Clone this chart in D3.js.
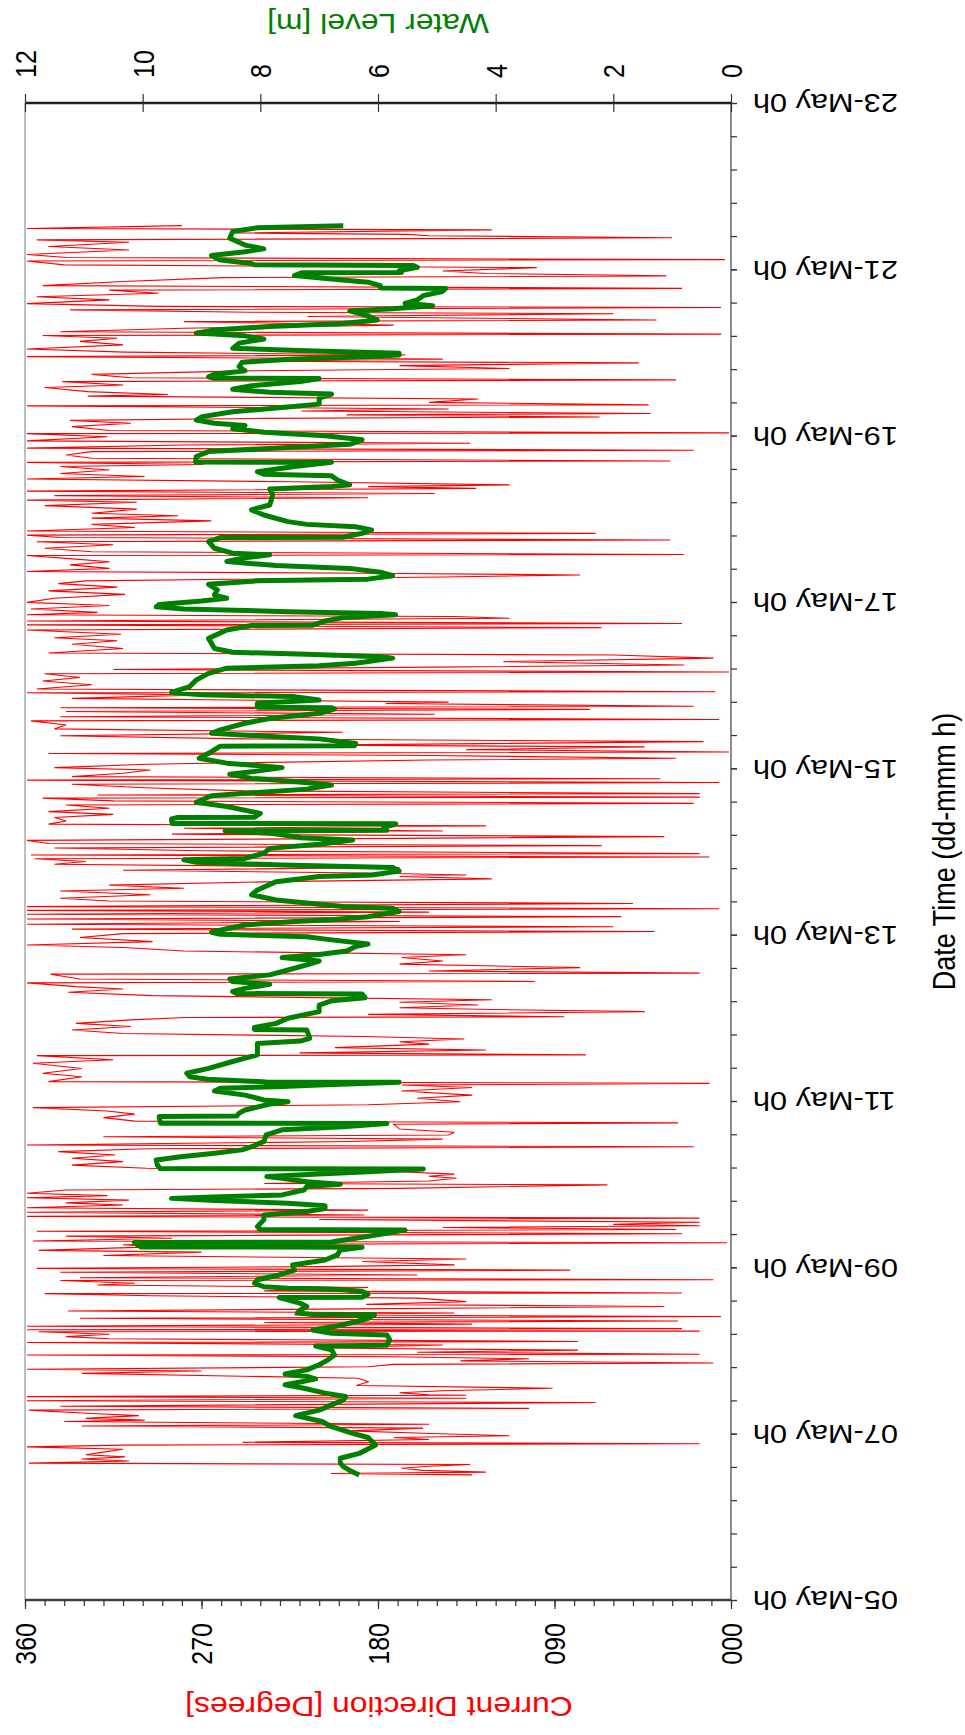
<!DOCTYPE html>
<html>
<head>
<meta charset="utf-8">
<script src="https://cdn.jsdelivr.net/npm/d3@7"></script>
<style>
  body { margin: 0; background: #fff; }
  svg { display: block; }
</style>
</head>
<body>
<svg id="chart" width="965" height="1735"></svg>
<script>
// ---- data -------------------------------------------------------------
// Sample times are hours after the first record (06-May 12:00).
const seriesStart = Date.UTC(2010, 4, 6, 12);
const axisStart = new Date(Date.UTC(2010, 4, 5));
const axisEnd = new Date(Date.UTC(2010, 4, 23));

const directionMajorTicks = [0, 90, 180, 270, 360];
const levelTicks = [0, 2, 4, 6, 8, 10, 12];

// [hours, metres]
const waterLevel = [
[0.1,6.32],[1.2,6.46],[2.5,6.59],[3.5,6.64],[4.9,6.64],[6.3,6.32],[8.7,6.04],[10.9,6.17],[12.1,6.43],[14.0,6.79],[15.5,6.95],[17.2,7.40],[18.8,7.00],[20.3,6.79],[21.7,6.59],[22.7,6.55],
[23.7,6.90],[25.1,7.26],[26.1,7.58],[26.9,7.32],[27.8,7.06],[28.5,7.21],[29.2,7.58],[30.4,7.21],[31.9,7.00],[33.3,6.85],[34.7,6.74],[36.2,6.79],[37.3,7.06],[37.5,5.85],[39.1,5.80],[40.5,5.85],[41.0,6.79],[41.9,7.11],[42.9,6.74],[44.3,6.38],[45.3,6.17],[46.3,6.06],[46.4,7.11],[46.8,7.37],[47.7,7.32],[48.7,7.21],[49.6,7.32],[50.6,7.53],[51.3,7.68],[51.4,6.27],[52.2,6.17],[53.0,6.27],[53.5,6.59],[53.8,7.00],[54.0,7.53],[54.4,7.94],[55.4,8.10],[56.4,8.05],[57.8,7.68],[59.2,7.42],[60.7,7.45],
[62.1,6.90],[63.6,6.69],[65.0,6.64],[65.8,6.27],[65.9,10.03],[67.2,10.14],[67.3,6.79],[68.4,6.38],[69.8,5.85],[70.8,5.54],[70.9,8.00],[71.8,8.05],[73.7,7.94],[75.1,7.94],[76.1,7.21],[77.0,6.90],[77.8,6.90],[78.5,7.53],[79.3,8.78],[79.9,9.51],[80.4,8.68],[80.9,7.63],[82.3,7.26],[83.3,7.21],[84.0,6.64],[84.7,7.21],[85.7,7.63],[86.2,7.89],[86.9,7.00],[87.6,6.17],[88.4,5.23],[88.5,9.70],[89.5,9.75],[91.0,9.77],[91.9,9.35],[92.9,8.78],[93.9,8.31],[94.8,8.15],[96.3,7.94],[98.2,7.90],
[99.7,7.63],[100.6,6.59],[101.5,5.85],[101.6,9.70],[103.5,9.72],[103.7,8.40],[104.5,8.36],[105.4,8.26],[107.1,7.84],[107.8,7.53],[108.3,7.94],[109.7,8.26],[110.9,8.78],[111.7,8.68],[112.1,7.73],[112.6,7.00],[113.4,5.64],[113.5,7.90],[114.3,8.90],[115.0,9.20],[116.0,9.25],[117.4,8.88],[119.4,8.47],[121.3,8.05],[123.2,8.05],[124.6,8.05],[125.3,7.32],[126.1,7.16],[128.5,7.21],[128.6,8.10],[129.2,8.10],[130.4,7.73],[131.9,7.53],[133.8,7.00],[135.7,7.00],
[136.9,6.79],[137.8,6.22],[138.9,6.27],[139.0,8.40],[139.6,8.47],[140.5,8.26],[141.7,7.84],[142.5,8.47],[143.2,8.52],[144.4,7.84],[145.8,7.53],[147.3,7.21],[148.4,7.00],[149.4,7.63],[150.3,7.00],[151.3,6.53],[152.6,6.38],[153.3,6.17],[154.5,6.79],[155.4,7.21],[156.1,8.68],[156.7,8.83],[157.7,8.57],[158.8,8.26],[159.8,7.42],[160.3,6.79],[161.2,6.17],[162.7,5.64],[163.6,5.75],[164.1,6.59],[164.8,7.00],[166.0,7.73],[167.5,8.15],[168.9,8.05],[171.3,7.73],[172.8,7.00],[173.2,6.10],
[174.4,5.64],[175.4,5.75],[176.1,7.63],[176.9,9.09],[177.6,9.30],[178.0,8.26],[179.5,7.94],[180.9,7.84],[182.1,7.00],[183.3,6.43],[184.0,7.32],[185.3,7.84],[186.0,8.60],[186.1,5.85],[187.0,5.90],[188.0,5.70],[188.1,9.50],[189.4,9.51],[189.8,9.40],[189.9,8.10],[191.0,8.00],[193.0,8.57],[194.2,9.09],[196.1,8.83],[196.8,8.26],[198.0,7.21],[199.2,6.79],[200.2,7.42],[201.1,8.15],[202.3,8.52],[203.2,8.05],[204.2,7.63],[205.5,8.57],[206.9,9.04],[208.8,8.83],[210.4,8.68],[210.5,6.40],
[211.2,6.38],[212.5,7.00],[213.4,8.05],[214.1,8.83],[215.1,8.68],[217.0,8.26],[218.4,7.84],[219.9,7.00],[221.1,6.74],[221.5,6.80],[221.6,8.05],[222.8,8.05],[223.7,7.00],[224.7,7.42],[225.2,8.99],[225.9,9.51],[227.6,9.20],[229.5,9.09],[231.4,8.88],[232.9,8.57],[233.6,7.00],[234.3,6.38],[235.8,5.75],[236.2,5.96],[236.9,7.21],[237.5,8.47],[238.6,8.78],[241.5,8.88],[243.9,8.57],[245.2,8.15],[245.3,7.11],[246.5,6.90],[247.5,6.59],[248.3,5.70],
[248.7,5.96],[249.2,7.53],[250.0,9.30],[250.6,9.77],[251.3,9.72],[252.3,9.00],[253.1,8.57],[254.0,8.78],[255.5,8.73],[257.1,8.88],[258.1,8.05],[258.6,6.17],[259.6,5.75],[260.6,5.96],[261.7,6.48],[262.5,7.73],[263.7,8.57],[264.8,8.26],[265.6,7.84],[266.1,8.47],[267.5,8.78],[269.4,8.88],[270.6,8.68],[270.7,6.60],[271.8,6.27],[272.8,6.11],[273.7,6.38],[274.4,7.21],[275.2,7.53],[277.1,7.94],[278.6,8.15],[280.0,7.84],[282.9,7.79],[284.6,7.84],[285.3,6.79],[285.8,6.48],
[287.2,6.69],[288.4,6.79],[288.9,7.94],[289.6,8.05],[291.1,7.42],[292.3,6.79],[292.4,9.10],[294.0,9.09],[295.4,8.88],[296.6,7.53],[297.5,6.48],[298.8,6.27],[300.0,6.90],[301.0,7.94],[302.0,8.47],[302.9,8.26],[303.6,8.78],[304.5,9.09],[305.5,8.99],[306.9,8.47],[308.1,7.63],[309.1,7.00],[310.8,7.00],[312.0,6.79],[312.5,7.84],[313.4,8.47],[314.4,8.15],[315.6,7.32],[316.5,7.00],[316.6,8.80],[317.0,8.88],[317.7,8.78],[318.7,8.26],[319.9,8.36],[321.2,8.31],[322.1,7.42],[322.8,6.17],[323.3,5.64],
[323.8,5.64],[324.5,7.21],[325.2,8.47],[326.7,8.36],[327.9,7.94],[328.8,8.26],[329.6,9.09],[330.5,8.78],[331.5,7.84],[332.4,6.59],[333.4,6.01],[334.6,6.17],[336.0,6.48],[336.6,5.75],[337.5,5.07],[338.2,5.54],[339.2,5.33],[340.4,5.23],[341.6,4.91],[342.5,4.85],[342.6,5.96],[343.3,5.96],[344.3,6.17],[345.2,6.79],[346.2,7.42],[347.0,7.30],[347.1,5.60],[347.6,5.64],[348.6,5.33],[349.1,5.40],[349.3,8.10],[349.7,8.15],[350.7,8.68],[352.0,8.83],[353.1,8.26],[353.9,7.94],[355.0,8.26],[357.0,8.52],[358.9,8.47],[360.0,8.05],[360.6,6.59]
];

// [hours, degrees]
const currentDirection = [
[0.1,132],[0.5,204],[0.9,125],[1.4,157],[2.0,168],[2.6,154],[3.1,133],[3.5,358],[4.1,307],[4.7,331],[5.3,309],[5.9,329],[6.6,321],[7.5,310],[8.2,359],[8.7,310],[9.1,16],[9.5,249],[10.3,154],[10.9,172],[11.4,113],[12.1,157],[12.8,194],[13.6,157],[14.2,331],[14.7,154],[15.5,340],[15.9,299],[16.4,329],[17.2,302],[17.8,326],[18.8,358],[19.3,103],[19.9,342],[21.0,69],[21.5,359],[22.2,135],[22.7,359],[23.1,135],
[23.2,154],[23.8,169],[24.4,147],[25.1,91],[25.9,191],[27.0,185],[28.0,190],[29.4,331],[30.1,270],[30.6,359],[31.3,185],[32.0,172],[32.4,9],[33.0,138],[33.6,103],[34.2,172],[34.7,359],[34.9,16],[35.5,160],[36.1,78],[36.7,210],[37.6,147],[38.3,359],[38.6,78],[39.4,317],[40.0,339],[40.7,317],[41.4,353],[41.6,16],[42.0,359],[42.3,25],[43.0,359],[43.6,132],[44.1,238],[44.5,27],[45.3,332],[45.8,5],[46.3,223],[46.8,141],[47.4,338],[48.0,191],[48.7,34],[49.3,186],[50.1,135],[51.1,160],[51.8,295],[52.4,350],[52.6,25],[53.2,238],[54.2,185],[54.9,323],[55.4,304],[56.2,342],[56.4,9],[57.0,332],[57.8,160],[58.6,342],[59.2,82],[59.7,354],[60.2,210],[60.7,141],
[61.7,188],[62.4,135],[63.4,320],[64.4,270],[64.9,353],[65.9,295],[66.5,310],[67.1,2],[67.6,356],[68.4,285],[69.0,339],[69.7,25],[70.4,354],[70.9,28],[71.5,147],[72.0,16],[72.4,60],[73.0,16],[73.8,210],[74.2,16],[74.7,359],[75.1,187],[75.9,359],[76.5,185],[77.2,359],[78.0,310],[78.6,339],[79.4,307],[80.1,359],[80.7,318],[81.4,359],[82.3,339],[82.8,169],[83.8,63],[84.2,238],[84.9,154],[85.7,140],[86.3,154],[86.9,141],[87.6,169],[88.6,298],[89.5,336],[90.5,310],[91.5,336],[92.4,314],[93.4,343],[94.2,298],[94.8,19],[95.3,359],[96.3,194],[97.0,147],[97.7,320],[98.2,144],
[99.0,141],[99.9,169],[101.3,172],[101.7,27],[102.2,304],[103.2,320],[104.2,304],[105.1,318],[106.1,356],[106.9,185],[107.8,138],[108.8,160],[109.7,132],[110.9,168],[111.9,132],[112.6,168],[113.1,11],[113.6,348],[115.0,331],[116.0,351],[117.4,331],[118.9,356],[119.9,315],[121.1,354],[121.3,74],[121.9,220],[122.7,125],[123.4,202],[124.4,154],[125.1,169],[125.9,136],[126.6,187],[127.5,310],[128.5,336],[129.5,306],[130.4,334],[131.4,306],[132.1,278],[132.3,85],[133.0,185],[133.8,44],[134.4,122],[134.9,169],[135.7,129],
[136.5,169],[137.2,122],[138.4,295],[139.4,338],[140.3,310],[141.0,334],[142.1,359],[142.5,100],[143.2,332],[144.6,347],[144.9,16],[145.5,154],[146.5,77],[147.5,169],[148.4,147],[149.4,168],[150.2,135],[151.3,279],[152.3,310],[153.0,359],[154.0,295],[155.2,332],[156.3,310],[156.9,39],[157.6,336],[158.3,60],[159.0,359],[159.8,169],[160.5,359],[161.2,56],[161.9,359],[162.5,154],[163.0,359],[163.5,6],[164.1,359],[165.0,50],[165.7,317],[166.5,342],[167.5,296],[168.6,342],[169.4,279],[170.3,317],[171.3,232],[172.1,122],[172.8,169],[173.2,135],
[173.8,185],[174.6,310],[175.4,169],[176.3,345],[177.1,329],[177.9,355],[178.4,11],[179.0,357],[179.4,16],[180.2,270],[181.0,345],[181.7,66],[182.3,348],[183.2,359],[183.8,169],[184.3,34],[185.0,285],[185.9,147],[186.7,279],[187.4,125],[187.9,348],[188.8,339],[189.8,345],[190.7,315],[191.5,348],[192.5,317],[193.4,339],[193.9,19],[194.6,315],[195.4,351],[195.7,16],[196.3,323],[196.7,16],[197.5,248],[198.4,299],[199.4,336],[199.9,6],[200.6,359],[201.0,36],[201.6,336],[202.6,310],[203.5,296],[204.2,345],[205.2,298],[206.4,154],[206.9,28],[207.7,154],[208.3,348],[208.7,1],[209.4,135],[210.2,44],[210.7,216],
[211.7,14],[212.5,248],[213.4,342],[214.4,198],[215.4,345],[216.5,339],[217.7,357],[218.1,6],[218.9,342],[219.6,151],[220.4,339],[221.0,72],[221.5,342],[221.9,19],[222.7,176],[223.1,144],[224.2,336],[225.2,270],[225.8,359],[226.1,8],[226.9,354],[228.1,326],[229.2,351],[230.2,332],[231.3,350],[231.8,1],[232.5,315],[233.2,151],[233.8,24],[234.8,116],[235.8,9],[236.7,60],[237.3,348],[238.6,310],[239.8,336],[240.8,313],[241.7,345],[242.7,311],[243.9,359],[244.6,66],[245.4,359],[245.8,25],[246.5,359],[247.3,113],[247.8,141],[248.3,359],
[249.0,323],[250.0,357],[251.0,317],[251.9,359],[253.1,345],[254.2,309],[255.2,348],[256.3,313],[257.3,343],[258.1,329],[259.2,147],[259.8,77],[260.3,185],[260.8,359],[261.7,317],[262.7,337],[263.6,317],[264.6,339],[265.4,359],[265.7,24],[266.5,326],[267.5,350],[268.5,315],[269.4,354],[269.9,31],[270.6,342],[271.3,359],[271.8,69],[272.5,359],[273.5,304],[274.4,326],[275.4,265],[276.2,326],[276.9,282],[277.6,326],[278.8,303],[279.8,350],[280.8,303],[281.4,359],[282.1,185],[282.7,345],[283.3,151],[284.0,359],[284.8,130],[285.3,185],[285.8,113],
[286.7,224],[287.5,359],[288.2,299],[289.1,342],[290.1,317],[291.1,342],[291.7,269],[292.3,359],[292.7,31],[293.5,326],[294.4,339],[295.4,326],[295.8,19],[296.4,359],[297.3,279],[297.8,133],[298.5,359],[299.7,318],[300.6,359],[300.8,1],[301.5,317],[302.6,336],[303.6,306],[304.4,337],[305.0,238],[305.4,67],[306.0,196],[306.4,41],[307.1,219],[307.7,144],[308.6,359],[308.9,42],[309.6,154],[310.6,129],[311.4,328],[311.9,287],[312.7,328],[313.9,350],[314.6,310],[315.6,341],[316.1,28],[316.7,306],[317.7,326],[318.7,248],[319.4,113],[320.2,169],[321.0,47],[321.5,248],[322.1,147],[322.8,359],[323.3,166],
[324.1,309],[325.0,359],[326.2,310],[327.2,332],[328.1,313],[328.9,351],[329.3,5],[330.0,342],[331.0,279],[331.9,172],[332.9,279],[333.4,38],[334.4,216],[335.2,60],[335.6,245],[336.3,337],[337.0,5],[337.3,292],[338.1,359],[339.2,317],[340.1,354],[341.1,292],[342.0,317],[342.5,25],[343.3,351],[344.5,310],[345.6,259],[346.1,33],[346.8,125],[347.5,147],[348.5,99],[349.3,340],[350.4,359],[350.8,3],[351.4,339],[352.3,359],[353.6,307],[354.6,348],[355.8,307],[356.5,354],[357.1,30],[357.7,154],[358.1,165],[358.5,252],[359.4,122],[359.8,359],[360.6,280]
];

// ---- layout -----------------------------------------------------------
const FONT = "'Liberation Sans', Arial, Helvetica, sans-serif";
const STRETCH = 1.18;           // glyphs are drawn slightly wide across the page
const plot = { left: 25, right: 731, top: 103, bottom: 1600 };

const svg = d3.select("#chart");
svg.append("rect").attr("width", 965).attr("height", 1735).attr("fill", "#fff");

const timeScale = d3.scaleUtc().domain([axisStart, axisEnd]).range([plot.bottom, plot.top]);
const dirScale = d3.scaleLinear().domain([0, 360]).range([plot.right, plot.left]);
const levelScale = d3.scaleLinear().domain([0, 12]).range([plot.right, plot.left]);

const toDate = h => new Date(seriesStart + h * 3600e3);

// ---- series -----------------------------------------------------------
svg.append("path")
  .datum(currentDirection)
  .attr("fill", "none")
  .attr("stroke", "#ff0000")
  .attr("stroke-width", 1.1)
  .attr("d", d3.line().x(d => dirScale(d[1])).y(d => timeScale(toDate(d[0]))));

svg.append("path")
  .datum(waterLevel)
  .attr("fill", "none")
  .attr("stroke", "#008000")
  .attr("stroke-width", 5)
  .attr("stroke-linejoin", "round")
  .attr("d", d3.line().x(d => levelScale(d[1])).y(d => timeScale(toDate(d[0]))));

// ---- frame ------------------------------------------------------------
const frame = svg.append("g").attr("fill", "none");
frame.append("line").attr("x1", plot.left).attr("x2", plot.left).attr("y1", plot.top).attr("y2", plot.bottom)
  .attr("stroke", "#808080").attr("stroke-width", 1);
frame.append("line").attr("x1", plot.right).attr("x2", plot.right).attr("y1", plot.top).attr("y2", plot.bottom)
  .attr("stroke", "#404040").attr("stroke-width", 1.2);
frame.append("line").attr("x1", plot.left).attr("x2", plot.right).attr("y1", plot.top).attr("y2", plot.top)
  .attr("stroke", "#202020").attr("stroke-width", 2.5);
frame.append("line").attr("x1", plot.left).attr("x2", plot.right).attr("y1", plot.bottom).attr("y2", plot.bottom)
  .attr("stroke", "#404040").attr("stroke-width", 2.5);

function styleAxis(g) {
  g.select(".domain").remove();
  g.attr("font-family", FONT).attr("font-size", 25);
  g.selectAll(".tick line").attr("stroke", "#333").attr("stroke-width", 1.2);
  g.selectAll(".tick text").attr("fill", "#000");
}

// Current direction axis (bottom edge)
svg.append("g")
  .attr("transform", `translate(0,${plot.bottom})`)
  .call(d3.axisBottom(dirScale).tickValues(d3.range(0, 361, 10)).tickSize(6).tickFormat(""))
  .call(styleAxis);
svg.append("g")
  .attr("transform", `translate(0,${plot.bottom})`)
  .call(d3.axisBottom(dirScale).tickValues(directionMajorTicks).tickSize(9).tickFormat(d3.format("03d")))
  .call(styleAxis)
  .call(g => g.selectAll(".tick text")
    .attr("x", null).attr("y", null).attr("dy", "0.35em")
    .attr("text-anchor", "end")
    .attr("transform", `translate(0,23) rotate(-90) scale(1,${STRETCH})`));

// Water level axis (top edge), ticks cross the frame
svg.append("g")
  .attr("transform", `translate(0,${plot.top})`)
  .call(d3.axisTop(levelScale).tickValues(levelTicks).tickSize(9).tickFormat(d3.format("d")))
  .call(styleAxis)
  .call(g => g.selectAll(".tick line").attr("y1", 9).attr("y2", -9))
  .call(g => g.selectAll(".tick text")
    .attr("x", null).attr("y", null).attr("dy", "0.35em")
    .attr("text-anchor", "start")
    .attr("transform", `translate(0,-25) rotate(-90) scale(1,${STRETCH})`));

// Date axis (right edge): minor ticks every 0.4 day, labels every 2 days
const dayMs = 864e5;
const minorDates = d3.range(0, 18.0001, 0.4).map(d => new Date(+axisStart + d * dayMs));
const majorDates = d3.range(0, 19, 2).map(d => new Date(+axisStart + d * dayMs));
svg.append("g")
  .attr("transform", `translate(${plot.right},0)`)
  .call(d3.axisRight(timeScale).tickValues(minorDates).tickSize(6).tickFormat(""))
  .call(styleAxis);
svg.append("g")
  .attr("transform", `translate(${plot.right},0)`)
  .call(d3.axisRight(timeScale).tickValues(majorDates).tickSize(6).tickFormat(d3.utcFormat("%d-%b %-Hh")))
  .call(styleAxis)
  .call(g => g.selectAll(".tick text")
    .attr("font-size", 26)
    .attr("x", null).attr("y", null).attr("dy", "0.35em")
    .attr("text-anchor", "end")
    .attr("transform", `translate(22,0) rotate(180) scale(${STRETCH},1)`));

// ---- titles -----------------------------------------------------------
const titles = svg.append("g").attr("font-family", FONT).attr("font-size", 27).attr("text-anchor", "middle");
titles.append("text")
  .attr("transform", `translate(378,23) rotate(180) scale(${STRETCH},1)`)
  .attr("dy", "0.35em").attr("fill", "#008000")
  .text("Water Level [m]");
titles.append("text")
  .attr("transform", `translate(379,1706) rotate(180) scale(${STRETCH},1)`)
  .attr("dy", "0.35em").attr("fill", "#ff0000")
  .text("Current Direction [Degrees]");
titles.append("text")
  .attr("transform", `translate(944,${(plot.top + plot.bottom) / 2}) rotate(-90) scale(1,${STRETCH})`)
  .attr("dy", "0.35em").attr("fill", "#000")
  .text("Date Time (dd-mmm h)");
</script>
</body>
</html>
